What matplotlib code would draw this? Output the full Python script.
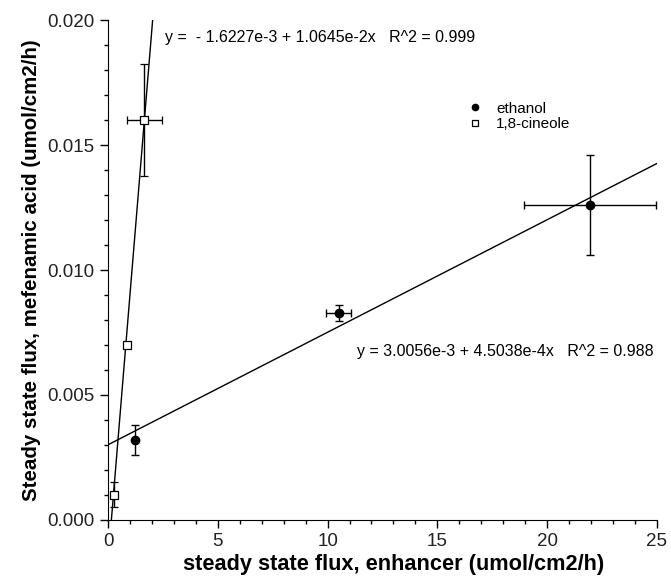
import matplotlib
matplotlib.use("Agg")
import matplotlib.pyplot as plt
import numpy as np
from matplotlib.ticker import MultipleLocator, FormatStrFormatter
from matplotlib.lines import Line2D

plt.rcParams['font.family'] = ['Liberation Sans', 'DejaVu Sans']

# ethanol data
eth_x = [1.25, 10.5, 21.95]
eth_y = [0.0032, 0.0083, 0.0126]
eth_xerr = [0.0, 0.58, 3.0]
eth_yerr = [0.0006, 0.00032, 0.0020]

# 1,8-cineole data
cin_x = [0.27, 0.87, 1.65]
cin_y = [0.0010, 0.0070, 0.0160]
cin_xerr = [0.0, 0.0, 0.8]
cin_yerr = [0.0005, 0.0001, 0.00225]

# regression coefficients
eth_a, eth_b = 3.0056e-3, 4.5038e-4
cin_a, cin_b = -1.6227e-3, 1.0645e-2

fig = plt.figure(figsize=(6.71, 5.77), dpi=100)
ax = fig.add_axes([0.161, 0.099, 0.818, 0.866])

# fit lines
xl = np.array([0, 25])
ax.plot(xl, eth_a + eth_b * xl, color='black', lw=1.0, zorder=2)
xc = np.array([(0 - cin_a) / cin_b - 0.05, (0.0205 - cin_a) / cin_b])
ax.plot(xc, cin_a + cin_b * xc, color='black', lw=1.0, zorder=2)

ax.errorbar(eth_x, eth_y, xerr=eth_xerr, yerr=eth_yerr, fmt='o', color='black',
            ms=6, ecolor='black', elinewidth=1.0, capsize=3, capthick=1.0, zorder=3)
ax.errorbar(cin_x, cin_y, xerr=cin_xerr, yerr=cin_yerr, fmt='s', mfc='white',
            mec='black', mew=0.9, ms=6, ecolor='black', elinewidth=1.0, capsize=3,
            capthick=1.0, zorder=4)

ax.set_xlim(0, 25)
ax.set_ylim(0, 0.020)
ax.xaxis.set_major_locator(MultipleLocator(5))
ax.xaxis.set_minor_locator(MultipleLocator(1))
ax.yaxis.set_major_locator(MultipleLocator(0.005))
ax.yaxis.set_minor_locator(MultipleLocator(0.001))
ax.yaxis.set_major_formatter(FormatStrFormatter('%.3f'))
ax.tick_params(which='major', direction='out', length=6, width=1, labelsize=13.5,
               labelcolor='#222222')
ax.tick_params(which='minor', direction='out', length=3, width=1)
ax.spines['top'].set_visible(False)
ax.spines['right'].set_visible(False)

ax.set_xlabel('steady state flux, enhancer (umol/cm2/h)', fontsize=15.7,
              fontweight='bold')
ax.xaxis.set_label_coords(0.52, -0.068)
ax.set_ylabel('Steady state flux, mefenamic acid (umol/cm2/h)', fontsize=14.8,
              fontweight='bold', labelpad=5)

ax.text(2.6, 0.0193, 'y =  - 1.6227e-3 + 1.0645e-2x   R^2 = 0.999', fontsize=11.5,
        va='center', ha='left')
ax.text(11.35, 0.00675, 'y = 3.0056e-3 + 4.5038e-4x   R^2 = 0.988', fontsize=11.5,
        va='center', ha='left')

handles = [
    Line2D([], [], ls='none', marker='o', color='black', ms=4.5),
    Line2D([], [], ls='none', marker='s', mfc='white', mec='black', mew=0.9, ms=4.5),
]
ax.legend(handles, ['ethanol', '1,8-cineole'], loc='upper left',
          bbox_to_anchor=(0.64, 0.852), frameon=False, fontsize=11,
          handletextpad=0.9, labelspacing=0.1, handlelength=1.0, borderpad=0)

fig.savefig('out.png', dpi=100)
